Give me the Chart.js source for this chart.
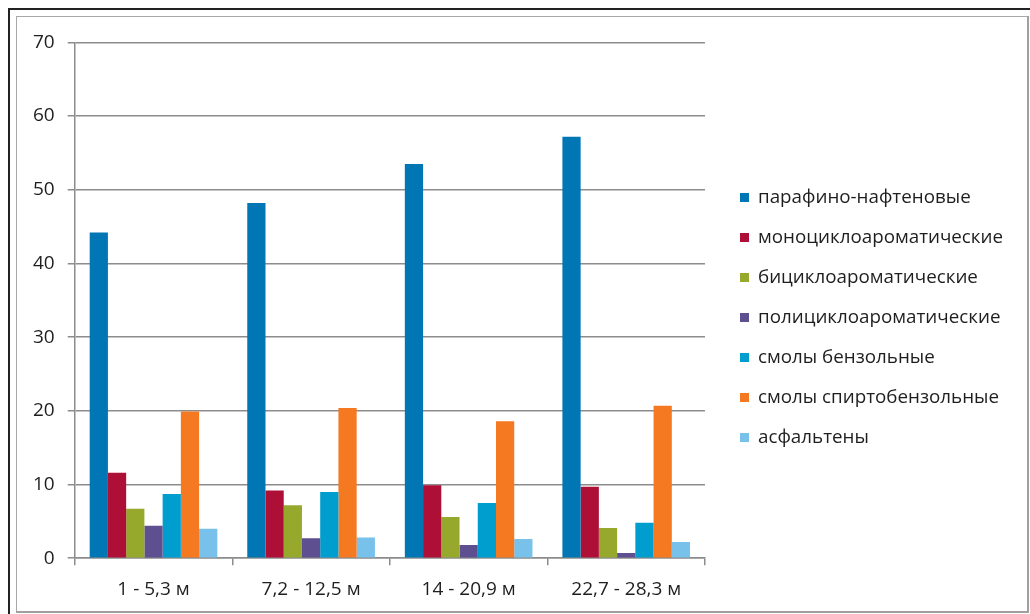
<!DOCTYPE html>
<html>
<head>
<meta charset="utf-8">
<script src="https://cdn.jsdelivr.net/npm/chart.js@4.4.0/dist/chart.umd.min.js"></script>
<style>
  html, body { margin: 0; padding: 0; background: #fff; width: 1030px; height: 614px; overflow: hidden; }
  #outer { position: absolute; left: 8px; top: 8px; width: 1100px; height: 700px; border-top: 2px solid #222; border-left: 2px solid #222; }
  #inner { position: absolute; left: 16px; top: 16px; width: 1010px; height: 594px; border: 1px solid #a8a8a8; border-right: 2px solid #a0a0a0; border-bottom: 2px solid #a0a0a0; background: #fff; }
  canvas { position: absolute; left: 1px; top: 1px; }
</style>
</head>
<body>
<div id="outer"></div>
<div id="inner"><canvas id="c" width="1008" height="600"></canvas></div>
<script>
const categories = ["1 - 5,3 м", "7,2 - 12,5 м", "14 - 20,9 м", "22,7 - 28,3 м"];
const seriesNames = ["парафино-нафтеновые", "моноциклоароматические", "бициклоароматические", "полициклоароматические", "смолы бензольные", "смолы спиртобензольные", "асфальтены"];
const parafinoNaftenovye = [44.2, 48.2, 53.5, 57.2];
const monotsikloaromaticheskie = [11.6, 9.2, 9.9, 9.7];
const bitsikloaromaticheskie = [6.7, 7.2, 5.6, 4.1];
const politsikloaromaticheskie = [4.4, 2.7, 1.8, 0.7];
const smolyBenzolnye = [8.7, 9.0, 7.5, 4.8];
const smolySpirtobenzolnye = [19.9, 20.4, 18.6, 20.7];
const asfalteny = [4.0, 2.8, 2.6, 2.2];
const yTicks = [0, 10, 20, 30, 40, 50, 60, 70];

const seriesValues = [parafinoNaftenovye, monotsikloaromaticheskie, bitsikloaromaticheskie, politsikloaromaticheskie, smolyBenzolnye, smolySpirtobenzolnye, asfalteny];
const colors = ["#0077b4", "#ae0f37", "#97a92d", "#5e4f91", "#009dcf", "#f47920", "#77c1ea"];

const FONT = "'Open Sans', 'DejaVu Sans', sans-serif";

const legendPlugin = {
  id: 'sideLegend',
  afterDraw(chart) {
    const ctx = chart.ctx;
    ctx.save();
    ctx.font = "18.8px " + FONT;
    ctx.textBaseline = 'middle';
    chart.data.datasets.forEach((ds, i) => {
      const y = 179 + i * 40;
      ctx.fillStyle = ds.backgroundColor;
      ctx.fillRect(722, y - 4, 9, 9);
      ctx.fillStyle = '#1e1e1e';
      ctx.fillText(ds.label, 740, y + 1);
    });
    ctx.restore();
  }
};

new Chart(document.getElementById('c'), {
  type: 'bar',
  data: {
    labels: categories,
    datasets: seriesNames.map((name, i) => ({
      label: name,
      data: seriesValues[i],
      backgroundColor: colors[i],
      borderWidth: 0,
      categoryPercentage: 0.81,
      barPercentage: 1.0
    }))
  },
  options: {
    responsive: false,
    animation: false,
    devicePixelRatio: 1,
    layout: { padding: { left: 2, right: 321, top: 24, bottom: 4 } },
    plugins: { legend: { display: false }, tooltip: { enabled: false } },
    scales: {
      x: {
        grid: { display: true, drawOnChartArea: false, drawTicks: true, tickLength: 7, color: '#8c8c8c', lineWidth: 1.5, offset: true },
        border: { display: true, color: '#8c8c8c', width: 1.5 },
        ticks: { font: { family: FONT, size: 19 }, color: '#1e1e1e', padding: 13 }
      },
      y: {
        min: 0, max: 70,
        afterBuildTicks(axis) { axis.ticks = yTicks.map(v => ({ value: v })); },
        grid: { color: '#8c8c8c', lineWidth: 1.5, tickLength: 7 },
        border: { display: true, color: '#8c8c8c', width: 1.5 },
        ticks: { font: { family: FONT, size: 19 }, color: '#1e1e1e', padding: 13 }
      }
    }
  },
  plugins: [legendPlugin]
});
</script>
</body>
</html>
